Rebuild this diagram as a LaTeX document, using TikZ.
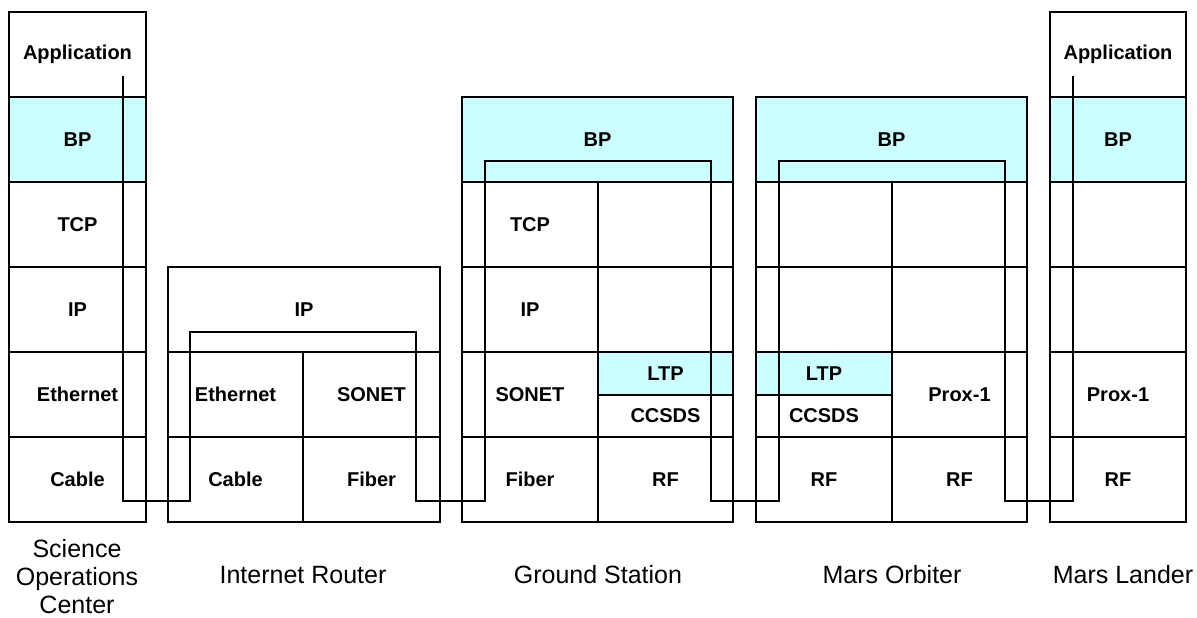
\documentclass[tikz,border=0pt]{standalone}
\usepackage{fontspec}
\setmainfont{Liberation Sans}
\definecolor{bpcyan}{HTML}{CCFFFF}
\tikzset{
  x=1pt, y=-1pt,
  cell/.style={draw=black, line width=2.8pt, inner sep=0pt, fill=white,
    font=\fontsize{20}{24}\selectfont\bfseries},
  shaded/.style={fill=bpcyan},
  pathline/.style={draw=black, line width=1.3pt},
  sitelabel/.style={align=center, font=\fontsize{25}{28}\selectfont}
}
% \layer[style]{name}{x1}{y1}{x2}{y2}{text}
\newcommand\layer[7][]{%
  \pgfmathsetmacro\layerw{#5-#3}%
  \pgfmathsetmacro\layerh{#6-#4}%
  \node[cell,#1,minimum width=\layerw pt,minimum height=\layerh pt]
    (#2) at ({(#3+#5)/2},{(#4+#6)/2}) {#7};}
\begin{document}
\begin{tikzpicture}
\useasboundingbox (0,0) rectangle (1197,618);

% Science Operations Center
\layer{socapp}{9}{12}{146}{97}{Application}
\layer[shaded]{socbp}{9}{97}{146}{182}{BP}
\layer{soctcp}{9}{182}{146}{267}{TCP}
\layer{socip}{9}{267}{146}{352}{IP}
\layer{soceth}{9}{352}{146}{437}{Ethernet}
\layer{soccab}{9}{437}{146}{522}{Cable}

% Internet Router
\layer{rtip}{168}{267}{440}{352}{IP}
\layer{rteth}{168}{352}{303}{437}{Ethernet}
\layer{rtsonet}{303}{352}{440}{437}{SONET}
\layer{rtcab}{168}{437}{303}{522}{Cable}
\layer{rtfib}{303}{437}{440}{522}{Fiber}

% Ground Station
\layer[shaded]{gsbp}{462}{97}{733}{182}{BP}
\layer{gstcp}{462}{182}{598}{267}{TCP}
\layer{gstcpb}{598}{182}{733}{267}{}
\layer{gsip}{462}{267}{598}{352}{IP}
\layer{gsipb}{598}{267}{733}{352}{}
\layer{gssonet}{462}{352}{598}{437}{SONET}
\layer[shaded]{gsltp}{598}{352}{733}{395}{LTP}
\layer{gsccsds}{598}{395}{733}{437}{CCSDS}
\layer{gsfib}{462}{437}{598}{522}{Fiber}
\layer{gsrf}{598}{437}{733}{522}{RF}

% Mars Orbiter
\layer[shaded]{obbp}{756}{97}{1027}{182}{BP}
\layer{obta}{756}{182}{892}{267}{}
\layer{obtb}{892}{182}{1027}{267}{}
\layer{obna}{756}{267}{892}{352}{}
\layer{obnb}{892}{267}{1027}{352}{}
\layer[shaded]{obltp}{756}{352}{892}{395}{LTP}
\layer{obccsds}{756}{395}{892}{437}{CCSDS}
\layer{obprox}{892}{352}{1027}{437}{Prox-1}
\layer{obrfa}{756}{437}{892}{522}{RF}
\layer{obrfb}{892}{437}{1027}{522}{RF}

% Mars Lander
\layer{ldapp}{1050}{12}{1186}{97}{Application}
\layer[shaded]{ldbp}{1050}{97}{1186}{182}{BP}
\layer{ldt}{1050}{182}{1186}{267}{}
\layer{ldn}{1050}{267}{1186}{352}{}
\layer{ldprox}{1050}{352}{1186}{437}{Prox-1}
\layer{ldrf}{1050}{437}{1186}{522}{RF}

% data path through the protocol stacks
\coordinate (pathstart) at (123,76);
\coordinate (pathend) at (1073,76);
\draw[pathline] (pathstart) |- (190,501) |- (416,332) |- (485,501)
  |- (711,161) |- (779,501) |- (1005,161) |- (1073,501) -- (pathend);

% site names
\node[sitelabel] (socname) at (77,577) {Science\\Operations\\Center};
\node[sitelabel] (rtname) at (303,575) {Internet Router};
\node[sitelabel] (gsname) at (598,575) {Ground Station};
\node[sitelabel] (obname) at (892,575) {Mars Orbiter};
\node[sitelabel] (ldname) at (1123,575) {Mars Lander};
\end{tikzpicture}
\end{document}
